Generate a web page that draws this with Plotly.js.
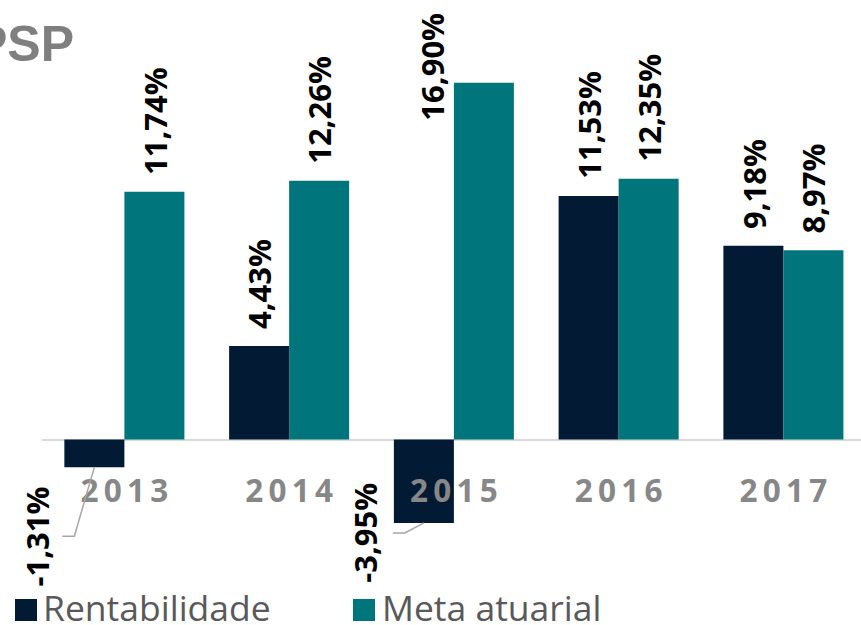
<!DOCTYPE html>
<html><head><meta charset="utf-8">
<script src="https://cdn.plot.ly/plotly-3.0.1.min.js"></script>
<style>html,body{margin:0;padding:0;background:#fff;}#chart{width:861px;height:625px;}</style>
</head><body><div id="chart"></div>
<script>
// ---- data ----
const years = ['2013', '2014', '2015', '2016', '2017'];
const rentabilidade = [-1.31, 4.43, -3.95, 11.53, 9.18];
const metaAtuarial = [11.74, 12.26, 16.90, 12.35, 8.97];
const seriesNames = ['Rentabilidade', 'Meta atuarial'];
const titleText = 'PSP';

// ---- style / layout ----
const seriesColors = ['#031A34', '#00767C'];
const W = 861, H = 625, M = {l: 42, r: 0, t: 20, b: 25};
const plotW = W - M.l - M.r, plotH = H - M.t - M.b;
const xRange = [-0.5, 4.471];
const yRange = [-7.603, 19.872];
const bargap = 0.2714;
const halfOff = (1 - bargap) / 4;
const pxPerUnit = plotH / (yRange[1] - yRange[0]);
const labelFont = {family: 'Open Sans', size: 31, color: '#000000', weight: 'bold'};
const leaderColor = '#A6A6A6';
// placement of labels for negative bars (pixel offsets: leader bend, horizontal run, text centre)
const negLabelPlacement = {0: {bx: -20, by: 69, run: 12, tx: -37}, 2: {bx: -19, by: 10, run: 12, tx: -40}};

const fmt = v => v.toFixed(2).replace('.', ',') + '%';
const xs = years.map((_, i) => i);
const spaced = s => s.split('').join('\u2006');

const seriesValues = [rentabilidade, metaAtuarial];
const traces = seriesValues.map((vals, s) => ({
  type: 'bar', x: xs, y: vals, name: seriesNames[s],
  marker: {color: seriesColors[s], line: {width: 0}},
  showlegend: false, hoverinfo: 'none'
}));

const annotations = [];
const shapes = [];
seriesValues.forEach((vals, s) => {
  const off = s === 0 ? -halfOff : halfOff;
  vals.forEach((v, i) => {
    const x = i + off;
    if (v >= 0) {
      const barTopPx = M.t + (yRange[1] - v) * pxPerUnit;
      if (barTopPx - 140 < 0) {
        // label does not fit above the bar: place it beside, to the left
        annotations.push({x: x, y: v, xref: 'x', yref: 'y', text: fmt(v), textangle: -90,
          showarrow: false, xanchor: 'center', yanchor: 'top', xshift: -52, yshift: 72, font: labelFont});
      } else {
        annotations.push({x: x, y: v, xref: 'x', yref: 'y', text: fmt(v), textangle: -90,
          showarrow: false, xanchor: 'center', yanchor: 'bottom', yshift: 15, font: labelFont});
      }
    } else {
      const p = negLabelPlacement[i];
      shapes.push({type: 'path', xref: 'x', yref: 'y', xsizemode: 'pixel', ysizemode: 'pixel',
        xanchor: x, yanchor: v,
        path: 'M0,0 L' + p.bx + ',' + (-p.by) + ' L' + (p.bx - p.run) + ',' + (-p.by),
        line: {color: leaderColor, width: 1.5}, fillcolor: 'rgba(0,0,0,0)', layer: 'above'});
      annotations.push({x: x, y: v, xref: 'x', yref: 'y', xshift: p.bx + p.tx, yshift: -p.by,
        text: fmt(v), textangle: -90, showarrow: false, xanchor: 'center', yanchor: 'middle', font: labelFont});
    }
  });
});

// legend (drawn as real text with colour keys)
const legendFont = {family: 'Open Sans', size: 35.5, color: '#595959'};
const legendItems = [{sq: 26, tx: 43}, {sq: 363.5, tx: 382}];
legendItems.forEach((it, s) => {
  annotations.push({xref: 'paper', yref: 'paper', x: (it.sq - M.l) / plotW, y: (M.t + plotH - 610) / plotH,
    text: ' ', showarrow: false, width: 22, height: 22, bgcolor: seriesColors[s], borderpad: 0, borderwidth: 0,
    xanchor: 'center', yanchor: 'middle'});
  annotations.push({xref: 'paper', yref: 'paper', x: (it.tx - M.l) / plotW, y: (M.t + plotH - 607) / plotH,
    text: seriesNames[s], showarrow: false, xanchor: 'left', yanchor: 'middle', height: 34, valign: 'middle',
    borderpad: 0, borderwidth: 0, font: legendFont});
});

const layout = {
  width: W, height: H,
  margin: M,
  paper_bgcolor: '#FFFFFF', plot_bgcolor: '#FFFFFF',
  barmode: 'group', bargap: bargap, bargroupgap: 0,
  showlegend: false,
  title: {text: titleText, font: {family: 'Liberation Sans', size: 50, color: '#7F7F7F', weight: 'bold'},
    xref: 'container', x: 74 / W, xanchor: 'right', yref: 'container', y: 1 - 43 / H, yanchor: 'middle'},
  xaxis: {
    range: xRange, tickmode: 'array', tickvals: xs, ticktext: years.map(spaced),
    showgrid: false, zeroline: false, showline: false, ticks: '',
    anchor: 'free', position: (0 - yRange[0]) / (yRange[1] - yRange[0]),
    ticklabelstandoff: 30,
    tickfont: {family: 'Open Sans', size: 31.5, color: '#878787', weight: 'bold'}
  },
  yaxis: {
    range: yRange, showgrid: false, showticklabels: false, ticks: '',
    zeroline: true, zerolinecolor: '#D9D9D9', zerolinewidth: 2
  },
  shapes: shapes,
  annotations: annotations
};

Plotly.newPlot('chart', traces, layout, {staticPlot: true, displayModeBar: false});
</script>
</body></html>
